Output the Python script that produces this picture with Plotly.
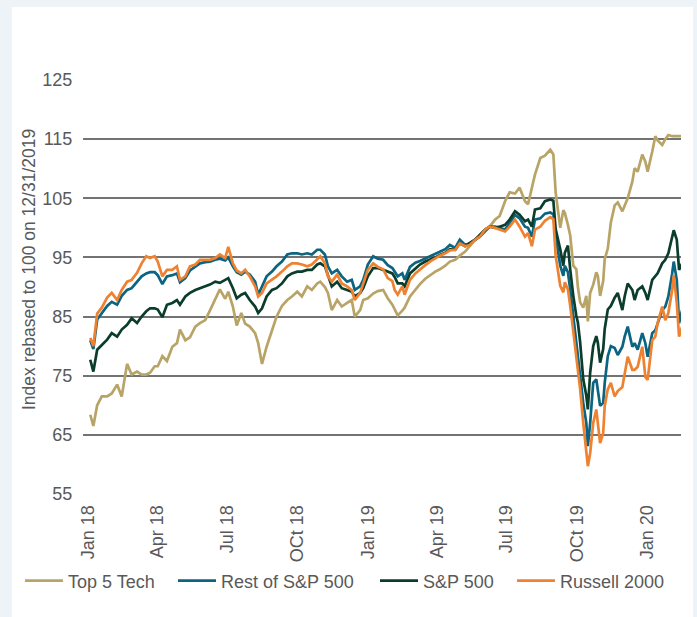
import plotly.graph_objects as go

dates = [
    "2018-01-04", "2018-01-08", "2018-01-13", "2018-01-19", "2018-01-26", "2018-02-01", "2018-02-08", "2018-02-14", "2018-02-21", "2018-02-27",
    "2018-03-06", "2018-03-12", "2018-03-18", "2018-03-23", "2018-03-29", "2018-04-02", "2018-04-08", "2018-04-14", "2018-04-21", "2018-04-27",
    "2018-05-01", "2018-05-08", "2018-05-14", "2018-05-21", "2018-05-27", "2018-06-03", "2018-06-09", "2018-06-16", "2018-06-22", "2018-06-29",
    "2018-07-03", "2018-07-09", "2018-07-14",
    "2018-07-20", "2018-07-25", "2018-07-31", "2018-08-07", "2018-08-11", "2018-08-16", "2018-08-22", "2018-08-29", "2018-09-04", "2018-09-11",
    "2018-09-18", "2018-09-24", "2018-10-01", "2018-10-07", "2018-10-14", "2018-10-20", "2018-10-27", "2018-10-31", "2018-11-06", "2018-11-10",
    "2018-11-15", "2018-11-22", "2018-11-28", "2018-12-05", "2018-12-11", "2018-12-15", "2018-12-22", "2018-12-26", "2019-01-01", "2019-01-08",
    "2019-01-14", "2019-01-21", "2019-01-27",
    "2019-02-02", "2019-02-05", "2019-02-09", "2019-02-15", "2019-02-18", "2019-02-25", "2019-03-04", "2019-03-10", "2019-03-17", "2019-03-23",
    "2019-03-30", "2019-04-05", "2019-04-12", "2019-04-18", "2019-04-25", "2019-05-01", "2019-05-08", "2019-05-14", "2019-05-21", "2019-05-27",
    "2019-06-03", "2019-06-09", "2019-06-16", "2019-06-22", "2019-06-29", "2019-07-05", "2019-07-12", "2019-07-18", "2019-07-25", "2019-07-29",
    "2019-08-03", "2019-08-07", "2019-08-14",
    "2019-08-20", "2019-08-27", "2019-08-31", "2019-09-03", "2019-09-09", "2019-09-13", "2019-09-15", "2019-09-19", "2019-09-22", "2019-09-26",
    "2019-09-30", "2019-10-02", "2019-10-05", "2019-10-09", "2019-10-13", "2019-10-15", "2019-10-18", "2019-10-22", "2019-10-26", "2019-10-28",
    "2019-10-31", "2019-11-04", "2019-11-06", "2019-11-10", "2019-11-14", "2019-11-19", "2019-11-23", "2019-11-29", "2019-12-02", "2019-12-06",
    "2019-12-12", "2019-12-15", "2019-12-19", "2019-12-25", "2019-12-29", "2020-01-01", "2020-01-07", "2020-01-11", "2020-01-14", "2020-01-20",
    "2020-01-24", "2020-01-28", "2020-02-02", "2020-02-04", "2020-02-08", "2020-02-11", "2020-02-15",
]

top5_tech = [
    68.4, 66.5, 70.0, 71.5, 71.5, 72.0, 73.5, 71.5, 77.0, 75.2, 75.7, 75.2, 75.2, 75.5, 76.6, 76.6, 78.3, 77.5, 79.9, 80.5,
    82.8, 81.0, 81.5, 83.3, 83.9, 84.4, 86.0, 88.0, 89.6, 88.0, 89.2, 86.7, 83.5,
    85.6, 83.8, 83.3, 82.2, 80.5, 77.0, 79.9, 82.8, 85.0, 86.8, 87.8, 88.4, 89.2, 88.4, 90.1, 89.5, 90.6, 90.9, 90.0, 89.0,
    86.1, 87.8, 86.7, 87.3, 87.8, 85.0, 86.1, 87.8, 88.1, 88.9, 89.3, 89.5, 88.1,
    87.0, 86.1, 85.2, 86.0, 86.5, 88.4, 89.5, 90.5, 91.4, 92.0, 92.6, 93.0, 93.6, 94.3, 94.6, 95.3, 96.0, 96.9, 98.0, 98.5,
    99.7, 100.2, 101.4, 102.0, 104.5, 106.0, 105.8, 106.8, 104.5, 104.0, 106.5, 109.0, 111.8,
    112.2, 113.2, 112.4, 106.0, 100.0, 103.0, 102.5, 100.5, 98.7, 93.6, 93.0, 90.0, 87.4, 86.5, 88.5, 84.2, 89.0, 90.4, 92.5, 91.9,
    88.5, 91.0, 94.7, 96.5, 100.9, 103.8, 104.3, 102.8, 103.9, 105.0, 107.8, 110.1, 109.5, 112.4, 111.2, 109.5, 112.9, 115.5, 114.8, 114.0,
    115.0, 115.7, 115.5, 115.5, 115.5, 115.5, 115.5,
]

rest_sp500 = [
    81.0, 79.5, 84.5, 85.5, 86.8, 87.5, 87.0, 88.5, 89.5, 89.8, 90.8, 91.8, 92.3, 92.5, 92.5, 92.0, 90.5, 91.8, 92.0, 92.3,
    90.8, 91.5, 92.8, 93.4, 94.0, 94.2, 94.3, 94.6, 94.8, 94.5, 95.0, 93.5, 92.5,
    92.1, 92.6, 92.1, 90.9, 88.7, 90.1, 91.8, 92.6, 93.5, 94.3, 95.5, 95.7, 95.7, 95.5, 95.7, 95.5, 96.3, 96.3, 95.5, 93.5,
    92.3, 92.9, 91.8, 90.9, 91.2, 89.5, 90.1, 91.2, 93.8, 95.2, 94.8, 94.6, 93.7,
    93.2, 92.6, 91.8, 92.3, 91.2, 93.4, 94.1, 94.4, 94.8, 95.2, 95.6, 96.0, 96.4, 97.1, 96.6, 98.0, 97.1, 97.4, 98.0, 98.5,
    99.4, 100.2, 100.2, 100.0, 99.7, 100.8, 102.2, 101.6, 100.2, 100.0, 98.5, 101.4, 101.6,
    102.4, 102.6, 102.3, 98.7, 93.6, 91.9, 93.6, 92.5, 89.6, 85.1, 81.2, 78.3, 75.0, 70.4, 67.0, 63.1, 67.0, 73.8, 74.4, 72.7,
    69.9, 70.4, 73.8, 78.3, 80.0, 79.7, 78.5, 79.9, 81.6, 83.3, 79.9, 80.5, 79.4, 82.2, 80.5, 78.2, 82.2, 82.7, 83.9, 86.1,
    86.7, 88.4, 92.3, 94.3, 91.2, 83.9, 86.1,
]

sp500 = [
    77.7, 75.7, 79.4, 80.2, 81.1, 82.2, 81.6, 82.8, 83.6, 84.7, 83.9, 85.0, 85.9, 86.4, 86.4, 86.2, 84.9, 87.0, 87.3, 87.8,
    87.0, 88.4, 89.0, 89.5, 89.8, 90.1, 90.4, 90.9, 90.7, 91.2, 91.5, 89.8, 88.1,
    88.7, 89.0, 87.8, 86.7, 85.6, 86.4, 88.4, 89.5, 89.8, 90.6, 91.8, 92.3, 92.6, 92.6, 92.9, 92.9, 93.8, 94.0, 93.5, 91.8,
    90.1, 90.9, 89.8, 89.5, 89.2, 88.4, 89.0, 89.8, 91.8, 93.2, 93.2, 92.9, 92.6,
    92.3, 91.7, 90.6, 90.6, 90.1, 92.3, 93.2, 93.8, 94.3, 94.6, 95.0, 95.4, 95.8, 96.4, 96.3, 97.4, 96.9, 97.4, 98.0, 98.8,
    99.7, 100.2, 100.0, 100.2, 100.5, 101.4, 102.8, 102.2, 101.1, 101.4, 100.2, 103.1, 103.3,
    104.5, 104.8, 104.6, 99.8, 96.4, 93.6, 95.8, 97.0, 93.0, 88.5, 85.1, 84.0, 80.6, 74.4, 71.6, 69.3, 75.5, 80.0, 81.7, 80.6,
    77.2, 79.5, 82.9, 86.2, 86.8, 88.2, 89.0, 86.1, 88.4, 90.6, 89.5, 87.8, 89.5, 90.1, 89.0, 87.8, 91.2, 91.8, 92.3, 94.0,
    94.6, 95.7, 98.6, 99.6, 98.0, 92.9, 94.0,
]

russell2000 = [
    81.4, 80.0, 85.5, 86.5, 88.2, 89.0, 87.8, 89.5, 90.9, 91.2, 92.4, 94.0, 95.2, 94.9, 95.2, 94.3, 91.8, 92.9, 92.9, 93.5,
    91.2, 91.8, 93.5, 93.8, 94.6, 94.6, 94.6, 94.9, 95.5, 94.9, 96.8, 94.0, 92.8,
    92.3, 92.9, 91.8, 90.1, 88.4, 89.0, 90.6, 91.2, 91.8, 92.6, 93.5, 94.0, 94.0, 93.8, 93.5, 93.8, 94.6, 95.2, 94.0, 91.8,
    90.9, 92.1, 90.6, 90.1, 89.5, 87.8, 89.0, 90.6, 92.9, 94.0, 93.4, 93.0, 91.5,
    91.0, 89.5, 88.7, 90.1, 88.7, 91.2, 92.3, 93.0, 93.7, 94.3, 94.9, 95.3, 95.7, 96.2, 96.3, 97.4, 96.9, 97.1, 98.0, 98.5,
    99.7, 100.2, 100.0, 99.7, 99.4, 100.2, 101.4, 100.2, 98.5, 99.1, 96.9, 99.7, 100.2,
    101.2, 101.8, 101.5, 95.3, 90.2, 89.1, 90.8, 89.6, 86.8, 82.3, 78.3, 75.0, 72.7, 67.0, 61.4, 59.7, 61.9, 67.0, 69.3, 67.0,
    63.6, 65.3, 69.9, 72.7, 73.8, 71.5, 72.4, 73.1, 75.4, 78.2, 76.0, 76.0, 76.5, 79.9, 74.8, 74.3, 81.0, 81.6, 83.9, 86.7,
    84.4, 85.6, 89.5, 92.0, 87.3, 81.6, 83.3,
]

series_names = ["Top 5 Tech", "Rest of S&P 500", "S&P 500", "Russell 2000"]
series_values = [top5_tech, rest_sp500, sp500, russell2000]
series_colors = ["#b8a466", "#0b6480", "#0b3d2c", "#ee8230"]

x_tick_dates = ["2018-01-01", "2018-04-01", "2018-07-01", "2018-10-01", "2019-01-01",
                "2019-04-01", "2019-07-01", "2019-10-01", "2020-01-01"]
x_tick_labels = ["Jan 18", "Apr 18", "Jul 18", "OCt 18", "Jan 19", "Apr 19", "Jul 19", "OCt 19", "Jan 20"]
y_ticks = [55, 65, 75, 85, 95, 105, 115, 125]
y_title = "Index rebased to 100 on 12/31/2019"

FONT = "Liberation Sans, Arial, sans-serif"
TXT = "#595959"
BG = "#eef3f7"

legend_ids = ["legend", "legend2", "legend3", "legend4"]
legend_x = [-0.1054, 0.1505, 0.4883, 0.7174]

fig = go.Figure()
for name, vals, col, lid in zip(series_names, series_values, series_colors, legend_ids):
    fig.add_trace(go.Scatter(x=dates, y=vals, mode="lines", name=name, legend=lid,
                             line=dict(color=col, width=2.7)))

legend_common = dict(orientation="h", y=-0.2101, xanchor="left", yanchor="middle",
                     font=dict(family=FONT, size=18, color=TXT), bgcolor="rgba(0,0,0,0)",
                     itemwidth=38)
legends = {lid: dict(x=lx, **legend_common) for lid, lx in zip(legend_ids, legend_x)}

fig.update_layout(
    width=697, height=617,
    margin=dict(l=83, r=16, t=80, b=123),
    paper_bgcolor=BG,
    plot_bgcolor="white",
    font=dict(family=FONT, size=18, color=TXT),
    showlegend=True,
    shapes=[dict(type="rect", xref="paper", yref="paper", x0=-0.1187, x1=1.0201,
                 y0=-0.2971, y1=1.1763, fillcolor="white", line=dict(width=0), layer="below")],
    annotations=[dict(text=y_title, textangle=-90, xref="paper", yref="paper",
                      x=-0.0903, y=0.541, xanchor="center", yanchor="middle", showarrow=False,
                      font=dict(family=FONT, size=17.5, color=TXT))],
    **legends,
)
fig.update_xaxes(type="date", range=["2017-12-25 12:00", "2020-02-13 12:00"],
                 tickmode="array", tickvals=x_tick_dates, ticktext=x_tick_labels,
                 tickangle=-90, tickfont=dict(size=18, color=TXT), showgrid=False,
                 zeroline=False, showline=False, ticks="outside", ticklen=3,
                 tickcolor="rgba(0,0,0,0)")
fig.update_yaxes(range=[55, 125], tickmode="array", tickvals=y_ticks,
                 tickfont=dict(size=18, color=TXT), showgrid=True, gridcolor="#737373",
                 gridwidth=1.5, zeroline=False, showline=False, ticks="outside", ticklen=6,
                 tickcolor="rgba(0,0,0,0)")

fig.write_html("out.html", config={"displayModeBar": False},
               post_script="document.body.style.margin='0';document.body.style.background='%s';" % BG)
